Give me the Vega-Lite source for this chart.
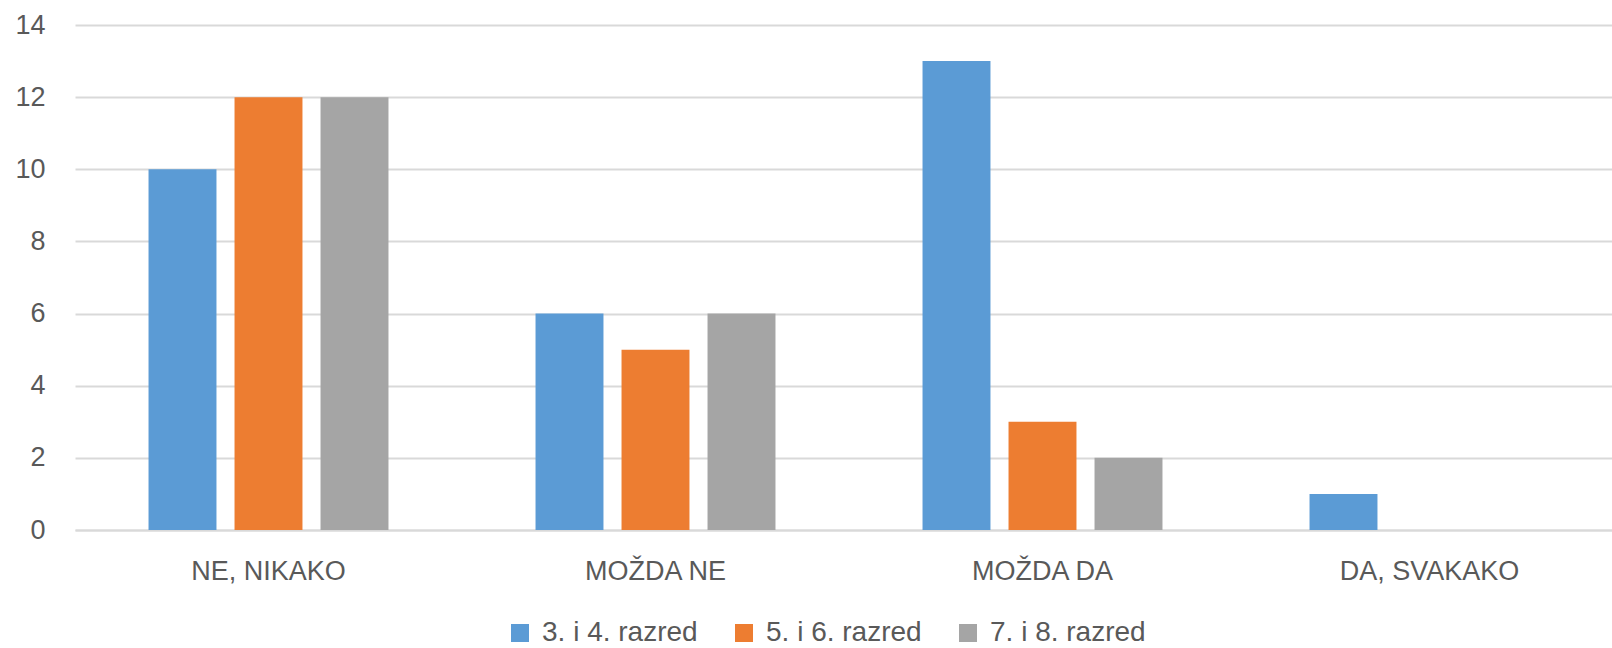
{
  "$schema": "https://vega.github.io/schema/vega-lite/v6.json",
  "width": 1537,
  "height": 505,
  "autosize": {"type": "none"},
  "padding": {"left": 75, "top": 25, "right": 0, "bottom": 118},
  "background": "white",
  "data": {
    "values": [
      {"kategorija": "NE, NIKAKO", "razred": "3. i 4. razred", "broj": 10},
      {"kategorija": "NE, NIKAKO", "razred": "5. i 6. razred", "broj": 12},
      {"kategorija": "NE, NIKAKO", "razred": "7. i 8. razred", "broj": 12},
      {"kategorija": "MOŽDA NE", "razred": "3. i 4. razred", "broj": 6},
      {"kategorija": "MOŽDA NE", "razred": "5. i 6. razred", "broj": 5},
      {"kategorija": "MOŽDA NE", "razred": "7. i 8. razred", "broj": 6},
      {"kategorija": "MOŽDA DA", "razred": "3. i 4. razred", "broj": 13},
      {"kategorija": "MOŽDA DA", "razred": "5. i 6. razred", "broj": 3},
      {"kategorija": "MOŽDA DA", "razred": "7. i 8. razred", "broj": 2},
      {"kategorija": "DA, SVAKAKO", "razred": "3. i 4. razred", "broj": 1},
      {"kategorija": "DA, SVAKAKO", "razred": "5. i 6. razred", "broj": 0},
      {"kategorija": "DA, SVAKAKO", "razred": "7. i 8. razred", "broj": 0}
    ]
  },
  "mark": {"type": "bar"},
  "encoding": {
    "x": {
      "field": "kategorija",
      "type": "nominal",
      "sort": ["NE, NIKAKO", "MOŽDA NE", "MOŽDA DA", "DA, SVAKAKO"],
      "scale": {"paddingInner": 0, "paddingOuter": 0, "range": [0, 1548]},
      "axis": {
        "title": null,
        "labelAngle": 0,
        "labelFont": "Liberation Sans",
        "labelFontSize": 27,
        "labelColor": "#595959",
        "labelPadding": 28,
        "ticks": false,
        "domainColor": "#d9d9d9",
        "domainWidth": 2,
        "grid": false
      }
    },
    "xOffset": {
      "field": "razred",
      "type": "nominal",
      "scale": {"paddingInner": 0.21, "paddingOuter": 0.855}
    },
    "y": {
      "field": "broj",
      "type": "quantitative",
      "scale": {"domain": [0, 14], "nice": false},
      "axis": {
        "title": null,
        "values": [0, 2, 4, 6, 8, 10, 12, 14],
        "labelFont": "Liberation Sans",
        "labelFontSize": 27,
        "labelColor": "#595959",
        "labelPadding": 30,
        "ticks": false,
        "domain": false,
        "gridColor": "#d9d9d9",
        "gridWidth": 2
      }
    },
    "color": {
      "field": "razred",
      "type": "nominal",
      "scale": {
        "domain": ["3. i 4. razred", "5. i 6. razred", "7. i 8. razred"],
        "range": ["#5B9BD5", "#ED7D31", "#A5A5A5"]
      },
      "legend": {
        "title": null,
        "orient": "none",
        "legendX": 431,
        "legendY": 594,
        "direction": "horizontal",
        "symbolType": "square",
        "symbolSize": 324,
        "symbolStrokeWidth": 0,
        "symbolOffset": 0,
        "labelOffset": 8,
        "labelFont": "Liberation Sans",
        "labelFontSize": 28,
        "labelColor": "#595959",
        "columnPadding": 32,
        "padding": 0
      }
    }
  },
  "config": {"view": {"stroke": null}}
}
